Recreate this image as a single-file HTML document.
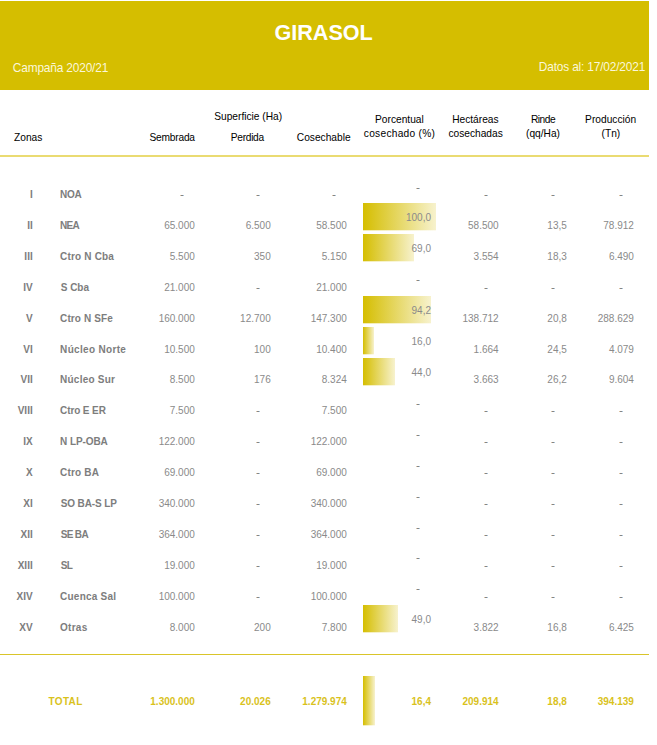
<!DOCTYPE html>
<html lang="es"><head><meta charset="utf-8"><title>GIRASOL</title>
<style>
html,body{margin:0;padding:0;background:#fff;}
body{width:657px;height:745px;position:relative;overflow:hidden;font-family:"Liberation Sans",sans-serif;}
.t{position:absolute;white-space:nowrap;}
.band{position:absolute;left:0;top:1px;width:649px;height:89px;background:#D5BE00;}
.title{color:#fff;font-weight:bold;}
.sub{color:#FBF7DA;}
.h{color:#000;}
.b{color:#7d7d7d;font-weight:bold;}
.d{color:#8a8a8a;}
.tot{color:#D9C21C;font-weight:bold;}
.hl{position:absolute;left:0;top:155px;width:649px;height:2px;background:#EADB72;}
.bl{position:absolute;left:0;top:654px;width:649px;height:1px;background:#D9C52A;}
.dash{position:absolute;width:4px;height:1px;background:linear-gradient(90deg,#dcc3a4 0,#dcc3a4 1px,#858585 1px,#858585 3px,#a4c3dc 3px,#a4c3dc 4px);}
.bar{position:absolute;background:linear-gradient(90deg,#D5BE00 0%,#F7F2CE 100%);}
.bar::after{content:"";position:absolute;left:0;right:0;bottom:-1px;height:1px;background:inherit;opacity:.3;}
</style></head>
<body>
<div class="band"></div>
<div class="t title" style="top:20px;font-size:21.6px;line-height:26px;left:173.60px;width:300px;text-align:center;">GIRASOL</div>
<div class="t sub" style="top:61px;font-size:11.9px;line-height:14px;letter-spacing:-0.17px;left:12.80px;">Campaña 2020/21</div>
<div class="t sub" style="top:60px;font-size:11.9px;line-height:14px;letter-spacing:-0.17px;right:11.87px;">Datos al: 17/02/2021</div>
<div class="t h" style="top:131px;font-size:10.2px;line-height:14px;left:14.00px;">Zonas</div>
<div class="t h" style="top:110px;font-size:10.2px;line-height:14px;left:98.20px;width:300px;text-align:center;">Superficie (Ha)</div>
<div class="t h" style="top:131px;font-size:10.2px;line-height:14px;letter-spacing:-0.21px;right:462.21px;">Sembrada</div>
<div class="t h" style="top:131px;font-size:10.2px;line-height:14px;letter-spacing:-0.3px;left:97.35px;width:300px;text-align:center;">Perdida</div>
<div class="t h" style="top:131px;font-size:10.2px;line-height:14px;right:306.40px;">Cosechable</div>
<div class="t h" style="top:113px;font-size:10.2px;line-height:14px;left:249.40px;width:300px;text-align:center;">Porcentual</div>
<div class="t h" style="top:127px;font-size:10.2px;line-height:14px;letter-spacing:0.26px;left:249.53px;width:300px;text-align:center;">cosechado (%)</div>
<div class="t h" style="top:113px;font-size:10.2px;line-height:14px;left:325.40px;width:300px;text-align:center;">Hectáreas</div>
<div class="t h" style="top:127px;font-size:10.2px;line-height:14px;left:325.60px;width:300px;text-align:center;">cosechadas</div>
<div class="t h" style="top:113px;font-size:10.2px;line-height:14px;letter-spacing:-0.45px;left:393.07px;width:300px;text-align:center;">Rinde</div>
<div class="t h" style="top:127px;font-size:10.2px;line-height:14px;left:393.00px;width:300px;text-align:center;">(qq/Ha)</div>
<div class="t h" style="top:113px;font-size:10.2px;line-height:14px;left:460.60px;width:300px;text-align:center;">Producción</div>
<div class="t h" style="top:127px;font-size:10.2px;line-height:14px;left:460.90px;width:300px;text-align:center;">(Tn)</div>
<div class="hl"></div>
<div class="t b" style="top:188px;font-size:10.0px;line-height:14px;right:624.30px;">I</div>
<div class="t b" style="top:188px;font-size:10.0px;line-height:14px;letter-spacing:-0.3px;left:60.10px;">NOA</div>
<div class="dash" style="left:180px;top:195px"></div>
<div class="dash" style="left:256px;top:195px"></div>
<div class="dash" style="left:332px;top:195px"></div>
<div class="dash" style="left:484px;top:195px"></div>
<div class="dash" style="left:551px;top:195px"></div>
<div class="dash" style="left:619px;top:195px"></div>
<div class="dash" style="left:416px;top:188px"></div>
<div class="t b" style="top:219px;font-size:10.0px;line-height:14px;right:624.30px;">II</div>
<div class="t b" style="top:219px;font-size:10.0px;line-height:14px;letter-spacing:-0.75px;left:60.10px;">NEA</div>
<div class="t d" style="top:219px;font-size:10.0px;line-height:14px;right:462.20px;">65.000</div>
<div class="t d" style="top:219px;font-size:10.0px;line-height:14px;right:386.30px;">6.500</div>
<div class="t d" style="top:219px;font-size:10.0px;line-height:14px;right:310.20px;">58.500</div>
<div class="t d" style="top:219px;font-size:10.0px;line-height:14px;right:158.40px;">58.500</div>
<div class="t d" style="top:219px;font-size:10.0px;line-height:14px;right:90.20px;">13,5</div>
<div class="t d" style="top:219px;font-size:10.0px;line-height:14px;right:23.10px;">78.912</div>
<div class="bar" style="left:363px;top:203px;width:73.00px;height:27px"></div>
<div class="t d" style="top:211px;font-size:10.0px;line-height:14px;right:226.00px;">100,0</div>
<div class="t b" style="top:250px;font-size:10.0px;line-height:14px;right:624.30px;">III</div>
<div class="t b" style="top:250px;font-size:10.0px;line-height:14px;letter-spacing:0.18px;left:60.10px;">Ctro N Cba</div>
<div class="t d" style="top:250px;font-size:10.0px;line-height:14px;right:462.20px;">5.500</div>
<div class="t d" style="top:250px;font-size:10.0px;line-height:14px;right:386.30px;">350</div>
<div class="t d" style="top:250px;font-size:10.0px;line-height:14px;right:310.20px;">5.150</div>
<div class="t d" style="top:250px;font-size:10.0px;line-height:14px;right:158.40px;">3.554</div>
<div class="t d" style="top:250px;font-size:10.0px;line-height:14px;right:90.20px;">18,3</div>
<div class="t d" style="top:250px;font-size:10.0px;line-height:14px;right:23.10px;">6.490</div>
<div class="bar" style="left:363px;top:234px;width:51.00px;height:27px"></div>
<div class="t d" style="top:242px;font-size:10.0px;line-height:14px;right:226.00px;">69,0</div>
<div class="t b" style="top:281px;font-size:10.0px;line-height:14px;right:624.30px;">IV</div>
<div class="t b" style="top:281px;font-size:10.0px;line-height:14px;left:60.70px;">S Cba</div>
<div class="t d" style="top:281px;font-size:10.0px;line-height:14px;right:462.20px;">21.000</div>
<div class="dash" style="left:256px;top:288px"></div>
<div class="t d" style="top:281px;font-size:10.0px;line-height:14px;right:310.20px;">21.000</div>
<div class="dash" style="left:484px;top:288px"></div>
<div class="dash" style="left:551px;top:288px"></div>
<div class="dash" style="left:619px;top:288px"></div>
<div class="dash" style="left:416px;top:280px"></div>
<div class="t b" style="top:312px;font-size:10.0px;line-height:14px;right:624.30px;">V</div>
<div class="t b" style="top:312px;font-size:10.0px;line-height:14px;letter-spacing:0.11px;left:60.10px;">Ctro N SFe</div>
<div class="t d" style="top:312px;font-size:10.0px;line-height:14px;right:462.20px;">160.000</div>
<div class="t d" style="top:312px;font-size:10.0px;line-height:14px;right:386.30px;">12.700</div>
<div class="t d" style="top:312px;font-size:10.0px;line-height:14px;right:310.20px;">147.300</div>
<div class="t d" style="top:312px;font-size:10.0px;line-height:14px;right:158.40px;">138.712</div>
<div class="t d" style="top:312px;font-size:10.0px;line-height:14px;right:90.20px;">20,8</div>
<div class="t d" style="top:312px;font-size:10.0px;line-height:14px;right:23.10px;">288.629</div>
<div class="bar" style="left:363px;top:296px;width:68.40px;height:27px"></div>
<div class="t d" style="top:304px;font-size:10.0px;line-height:14px;right:226.00px;">94,2</div>
<div class="t b" style="top:343px;font-size:10.0px;line-height:14px;right:624.30px;">VI</div>
<div class="t b" style="top:343px;font-size:10.0px;line-height:14px;letter-spacing:0.32px;left:60.10px;">Núcleo Norte</div>
<div class="t d" style="top:343px;font-size:10.0px;line-height:14px;right:462.20px;">10.500</div>
<div class="t d" style="top:343px;font-size:10.0px;line-height:14px;right:386.30px;">100</div>
<div class="t d" style="top:343px;font-size:10.0px;line-height:14px;right:310.20px;">10.400</div>
<div class="t d" style="top:343px;font-size:10.0px;line-height:14px;right:158.40px;">1.664</div>
<div class="t d" style="top:343px;font-size:10.0px;line-height:14px;right:90.20px;">24,5</div>
<div class="t d" style="top:343px;font-size:10.0px;line-height:14px;right:23.10px;">4.079</div>
<div class="bar" style="left:363px;top:327px;width:11.00px;height:27px"></div>
<div class="t d" style="top:335px;font-size:10.0px;line-height:14px;right:226.00px;">16,0</div>
<div class="t b" style="top:373px;font-size:10.0px;line-height:14px;right:624.30px;">VII</div>
<div class="t b" style="top:373px;font-size:10.0px;line-height:14px;letter-spacing:0.22px;left:60.10px;">Núcleo Sur</div>
<div class="t d" style="top:373px;font-size:10.0px;line-height:14px;right:462.20px;">8.500</div>
<div class="t d" style="top:373px;font-size:10.0px;line-height:14px;right:386.30px;">176</div>
<div class="t d" style="top:373px;font-size:10.0px;line-height:14px;right:310.20px;">8.324</div>
<div class="t d" style="top:373px;font-size:10.0px;line-height:14px;right:158.40px;">3.663</div>
<div class="t d" style="top:373px;font-size:10.0px;line-height:14px;right:90.20px;">26,2</div>
<div class="t d" style="top:373px;font-size:10.0px;line-height:14px;right:23.10px;">9.604</div>
<div class="bar" style="left:363px;top:358px;width:32.00px;height:27px"></div>
<div class="t d" style="top:366px;font-size:10.0px;line-height:14px;right:226.00px;">44,0</div>
<div class="t b" style="top:404px;font-size:10.0px;line-height:14px;right:624.30px;">VIII</div>
<div class="t b" style="top:404px;font-size:10.0px;line-height:14px;letter-spacing:-0.11px;left:60.10px;">Ctro E ER</div>
<div class="t d" style="top:404px;font-size:10.0px;line-height:14px;right:462.20px;">7.500</div>
<div class="dash" style="left:256px;top:411px"></div>
<div class="t d" style="top:404px;font-size:10.0px;line-height:14px;right:310.20px;">7.500</div>
<div class="dash" style="left:484px;top:411px"></div>
<div class="dash" style="left:551px;top:411px"></div>
<div class="dash" style="left:619px;top:411px"></div>
<div class="dash" style="left:416px;top:404px"></div>
<div class="t b" style="top:435px;font-size:10.0px;line-height:14px;right:624.30px;">IX</div>
<div class="t b" style="top:435px;font-size:10.0px;line-height:14px;letter-spacing:-0.1px;left:60.10px;">N LP-OBA</div>
<div class="t d" style="top:435px;font-size:10.0px;line-height:14px;right:462.20px;">122.000</div>
<div class="dash" style="left:256px;top:442px"></div>
<div class="t d" style="top:435px;font-size:10.0px;line-height:14px;right:310.20px;">122.000</div>
<div class="dash" style="left:484px;top:442px"></div>
<div class="dash" style="left:551px;top:442px"></div>
<div class="dash" style="left:619px;top:442px"></div>
<div class="dash" style="left:416px;top:435px"></div>
<div class="t b" style="top:466px;font-size:10.0px;line-height:14px;right:624.30px;">X</div>
<div class="t b" style="top:466px;font-size:10.0px;line-height:14px;letter-spacing:0.18px;left:60.10px;">Ctro BA</div>
<div class="t d" style="top:466px;font-size:10.0px;line-height:14px;right:462.20px;">69.000</div>
<div class="dash" style="left:256px;top:473px"></div>
<div class="t d" style="top:466px;font-size:10.0px;line-height:14px;right:310.20px;">69.000</div>
<div class="dash" style="left:484px;top:473px"></div>
<div class="dash" style="left:551px;top:473px"></div>
<div class="dash" style="left:619px;top:473px"></div>
<div class="dash" style="left:416px;top:466px"></div>
<div class="t b" style="top:497px;font-size:10.0px;line-height:14px;right:624.30px;">XI</div>
<div class="t b" style="top:497px;font-size:10.0px;line-height:14px;letter-spacing:-0.12px;left:60.70px;">SO BA-S LP</div>
<div class="t d" style="top:497px;font-size:10.0px;line-height:14px;right:462.20px;">340.000</div>
<div class="dash" style="left:256px;top:504px"></div>
<div class="t d" style="top:497px;font-size:10.0px;line-height:14px;right:310.20px;">340.000</div>
<div class="dash" style="left:484px;top:504px"></div>
<div class="dash" style="left:551px;top:504px"></div>
<div class="dash" style="left:619px;top:504px"></div>
<div class="dash" style="left:416px;top:497px"></div>
<div class="t b" style="top:528px;font-size:10.0px;line-height:14px;right:624.30px;">XII</div>
<div class="t b" style="top:528px;font-size:10.0px;line-height:14px;letter-spacing:-0.65px;left:60.70px;">SE BA</div>
<div class="t d" style="top:528px;font-size:10.0px;line-height:14px;right:462.20px;">364.000</div>
<div class="dash" style="left:256px;top:535px"></div>
<div class="t d" style="top:528px;font-size:10.0px;line-height:14px;right:310.20px;">364.000</div>
<div class="dash" style="left:484px;top:535px"></div>
<div class="dash" style="left:551px;top:535px"></div>
<div class="dash" style="left:619px;top:535px"></div>
<div class="dash" style="left:416px;top:528px"></div>
<div class="t b" style="top:559px;font-size:10.0px;line-height:14px;right:624.30px;">XIII</div>
<div class="t b" style="top:559px;font-size:10.0px;line-height:14px;letter-spacing:-0.6px;left:60.70px;">SL</div>
<div class="t d" style="top:559px;font-size:10.0px;line-height:14px;right:462.20px;">19.000</div>
<div class="dash" style="left:256px;top:566px"></div>
<div class="t d" style="top:559px;font-size:10.0px;line-height:14px;right:310.20px;">19.000</div>
<div class="dash" style="left:484px;top:566px"></div>
<div class="dash" style="left:551px;top:566px"></div>
<div class="dash" style="left:619px;top:566px"></div>
<div class="dash" style="left:416px;top:558px"></div>
<div class="t b" style="top:590px;font-size:10.0px;line-height:14px;right:624.30px;">XIV</div>
<div class="t b" style="top:590px;font-size:10.0px;line-height:14px;letter-spacing:0.22px;left:60.10px;">Cuenca Sal</div>
<div class="t d" style="top:590px;font-size:10.0px;line-height:14px;right:462.20px;">100.000</div>
<div class="dash" style="left:256px;top:597px"></div>
<div class="t d" style="top:590px;font-size:10.0px;line-height:14px;right:310.20px;">100.000</div>
<div class="dash" style="left:484px;top:597px"></div>
<div class="dash" style="left:551px;top:597px"></div>
<div class="dash" style="left:619px;top:597px"></div>
<div class="dash" style="left:416px;top:589px"></div>
<div class="t b" style="top:621px;font-size:10.0px;line-height:14px;right:624.30px;">XV</div>
<div class="t b" style="top:621px;font-size:10.0px;line-height:14px;letter-spacing:0.25px;left:60.10px;">Otras</div>
<div class="t d" style="top:621px;font-size:10.0px;line-height:14px;right:462.20px;">8.000</div>
<div class="t d" style="top:621px;font-size:10.0px;line-height:14px;right:386.30px;">200</div>
<div class="t d" style="top:621px;font-size:10.0px;line-height:14px;right:310.20px;">7.800</div>
<div class="t d" style="top:621px;font-size:10.0px;line-height:14px;right:158.40px;">3.822</div>
<div class="t d" style="top:621px;font-size:10.0px;line-height:14px;right:90.20px;">16,8</div>
<div class="t d" style="top:621px;font-size:10.0px;line-height:14px;right:23.10px;">6.425</div>
<div class="bar" style="left:363px;top:605px;width:35.40px;height:27px"></div>
<div class="t d" style="top:613px;font-size:10.0px;line-height:14px;right:226.00px;">49,0</div>
<div class="bl"></div>
<div class="t tot" style="top:695px;font-size:10.0px;line-height:14px;letter-spacing:0.35px;left:48.50px;">TOTAL</div>
<div class="t tot" style="top:695px;font-size:10.0px;line-height:14px;right:462.20px;">1.300.000</div>
<div class="t tot" style="top:695px;font-size:10.0px;line-height:14px;right:386.30px;">20.026</div>
<div class="t tot" style="top:695px;font-size:10.0px;line-height:14px;right:310.20px;">1.279.974</div>
<div class="t tot" style="top:695px;font-size:10.0px;line-height:14px;right:226.00px;">16,4</div>
<div class="t tot" style="top:695px;font-size:10.0px;line-height:14px;right:158.40px;">209.914</div>
<div class="t tot" style="top:695px;font-size:10.0px;line-height:14px;right:90.20px;">18,8</div>
<div class="t tot" style="top:695px;font-size:10.0px;line-height:14px;right:23.10px;">394.139</div>
<div class="bar" style="left:363px;top:676px;width:11.97px;height:49px"></div>
</body></html>
